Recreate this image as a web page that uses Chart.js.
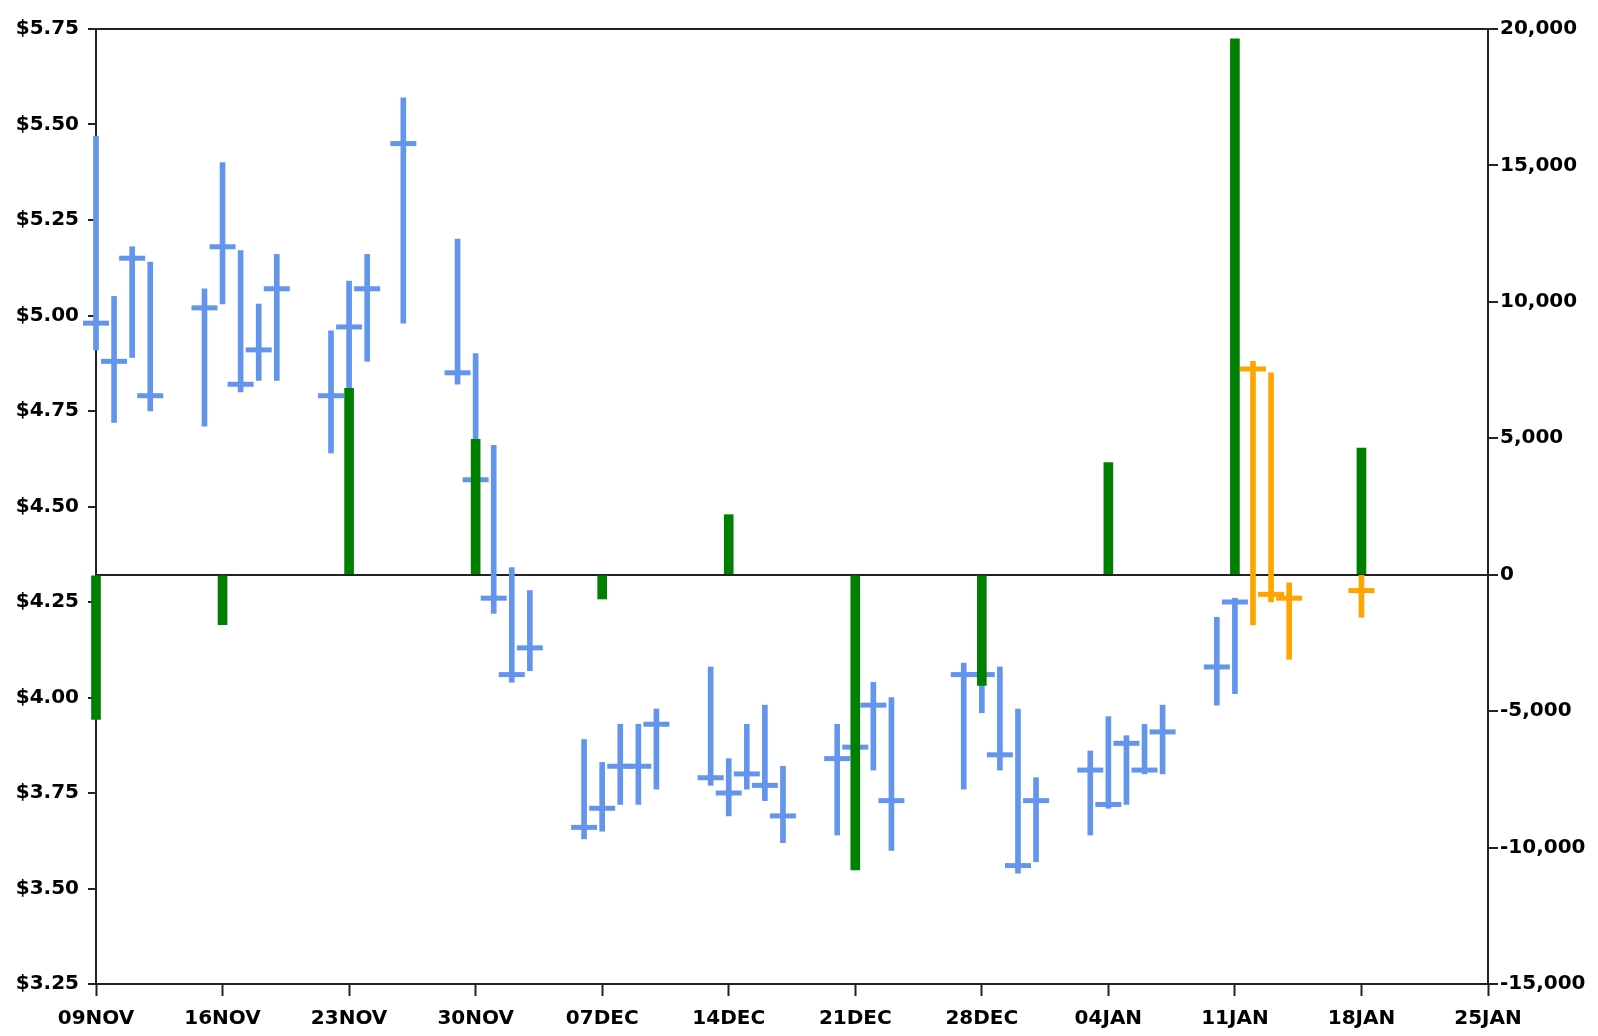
<!DOCTYPE html>
<html>
<head>
<meta charset="utf-8">
<script src="https://cdn.jsdelivr.net/npm/chart.js@4.4.1/dist/chart.umd.min.js"></script>
<style>
  html, body { margin: 0; padding: 0; background: #fff; }
  #wrap { width: 1598px; height: 1036px; }
</style>
</head>
<body>
<div id="wrap"><canvas id="chart" width="1598" height="1036"></canvas></div>
<script>
// weekly labels on the bottom axis (x = days after 09NOV)
const weekLabels = ["09NOV", "16NOV", "23NOV", "30NOV", "07DEC", "14DEC", "21DEC", "28DEC", "04JAN", "11JAN", "18JAN", "25JAN"];

// daily price bars, blue part
const blueDays  = [0, 1, 2, 3, 6, 7, 8, 9, 10, 13, 14, 15, 17, 20, 21, 22, 23, 24, 27, 28, 29, 30, 31, 34, 35, 36, 37, 38, 41, 42, 43, 44, 48, 49, 50, 51, 52, 55, 56, 57, 58, 59, 62, 63];
const blueHigh  = [5.47, 5.05, 5.18, 5.14, 5.07, 5.40, 5.17, 5.03, 5.16, 4.96, 5.09, 5.16, 5.57, 5.20, 4.90, 4.66, 4.34, 4.28, 3.89, 3.83, 3.93, 3.93, 3.97, 4.08, 3.84, 3.93, 3.98, 3.82, 3.93, 3.95, 4.04, 4.00, 4.09, 4.09, 4.08, 3.97, 3.79, 3.86, 3.95, 3.90, 3.93, 3.98, 4.21, 4.26];
const blueLow   = [4.91, 4.72, 4.89, 4.75, 4.71, 5.03, 4.80, 4.83, 4.83, 4.64, 4.72, 4.88, 4.98, 4.82, 4.53, 4.22, 4.04, 4.07, 3.63, 3.65, 3.72, 3.72, 3.76, 3.77, 3.69, 3.76, 3.73, 3.62, 3.64, 3.78, 3.81, 3.60, 3.76, 3.96, 3.81, 3.54, 3.57, 3.64, 3.71, 3.72, 3.80, 3.80, 3.98, 4.01];
const blueClose = [4.98, 4.88, 5.15, 4.79, 5.02, 5.18, 4.82, 4.91, 5.07, 4.79, 4.97, 5.07, 5.45, 4.85, 4.57, 4.26, 4.06, 4.13, 3.66, 3.71, 3.82, 3.82, 3.93, 3.79, 3.75, 3.80, 3.77, 3.69, 3.84, 3.87, 3.98, 3.73, 4.06, 4.06, 3.85, 3.56, 3.73, 3.81, 3.72, 3.88, 3.81, 3.91, 4.08, 4.25];

// last few bars in orange
const orangeDays  = [64, 65, 66, 70];
const orangeHigh  = [4.88, 4.85, 4.30, 4.32];
const orangeLow   = [4.19, 4.25, 4.10, 4.21];
const orangeClose = [4.86, 4.27, 4.26, 4.28];

// weekly green bars on the right axis
const volDays = [0, 7, 14, 21, 28, 35, 42, 49, 56, 63, 70];
const volumes = [-5300, -1830, 6830, 4960, -890, 2200, -10820, -4060, 4110, 19640, 4640];

const BLUE = "#6495ed", ORANGE = "#ffa500", GREEN = "#008000", AXIS = "#222";
const tickFont = { family: "DejaVu Sans", size: 20, weight: "bold" };
const clear = "rgba(0,0,0,0)";

const toRange = (days, lo, hi) => days.map((d, i) => ({ x: d, y: [lo[i], hi[i]] }));
const toPoints = (days, vals) => days.map((d, i) => ({ x: d, y: vals[i] }));

const rangeSet = (data, color) => ({
  type: "bar", data, yAxisID: "y", backgroundColor: color,
  barThickness: 5, grouped: false, borderWidth: 0, order: 2, clip: false
});
const closeSet = (data, color) => ({
  type: "scatter", data, yAxisID: "y", pointStyle: "line", pointRadius: 13,
  pointHoverRadius: 13, borderWidth: 5, borderColor: color, order: 1, clip: false
});

const ctx = document.getElementById("chart").getContext("2d");
new Chart(ctx, {
  type: "bar",
  data: {
    datasets: [
      {
        type: "bar", data: toPoints(volDays, volumes), yAxisID: "y2",
        backgroundColor: GREEN, barThickness: 9, grouped: false, borderWidth: 0, order: 0, clip: false
      },
      rangeSet(toRange(blueDays, blueLow, blueHigh), BLUE),
      closeSet(toPoints(blueDays, blueClose), BLUE),
      rangeSet(toRange(orangeDays, orangeLow, orangeHigh), ORANGE),
      closeSet(toPoints(orangeDays, orangeClose), ORANGE),
    ],
  },
  options: {
    responsive: false,
    devicePixelRatio: 1,
    animation: false,
    events: [],
    layout: { padding: { top: 29, left: 0, right: 0, bottom: 0 } },
    plugins: { legend: { display: false }, tooltip: { enabled: false } },
    scales: {
      x: {
        type: "linear", min: 0, max: 77, offset: false,
        grid: { offset: false, drawOnChartArea: false, tickLength: 12, tickColor: AXIS, tickWidth: 2 },
        border: { display: true, color: AXIS, width: 2 },
        ticks: {
          stepSize: 7, autoSkip: false, maxRotation: 0, padding: 11, color: "#000", font: tickFont,
          callback: (v) => weekLabels[Math.round(v / 7)],
        },
        afterFit: (s) => { s.height = 52; },
      },
      y: {
        type: "linear", position: "left", min: 3.25, max: 5.75,
        grid: {
          color: (c) => (c.tick && Math.abs(c.tick.value - 5.75) < 1e-9 ? AXIS : clear),
          lineWidth: 2, tickLength: 8, tickColor: AXIS, tickWidth: 2,
        },
        border: { display: true, color: AXIS, width: 2 },
        ticks: {
          stepSize: 0.25, padding: 9, color: "#000", font: tickFont,
          callback: (v) => "$" + v.toFixed(2),
        },
        afterFit: (s) => { s.width = 96; },
      },
      y2: {
        type: "linear", position: "right", min: -15000, max: 20000,
        grid: {
          color: (c) => (c.tick && c.tick.value === 0 ? AXIS : clear),
          lineWidth: 2, tickLength: 10, tickColor: AXIS, tickWidth: 2,
        },
        border: { display: true, color: AXIS, width: 2 },
        ticks: {
          stepSize: 5000, padding: 2, color: "#000", font: tickFont,
          callback: (v) => v.toLocaleString("en-US"),
        },
        afterFit: (s) => { s.width = 110; },
      },
    },
  },
});
</script>
</body>
</html>
